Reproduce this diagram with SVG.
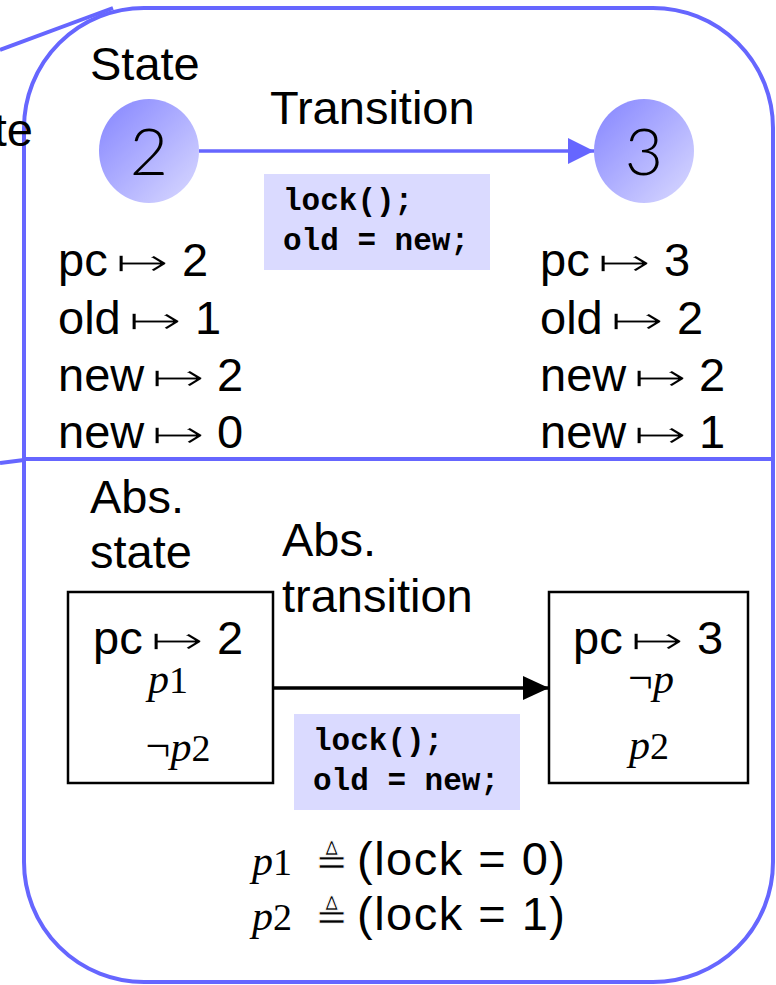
<svg xmlns="http://www.w3.org/2000/svg" width="776" height="985" viewBox="0 0 776 985">
  <defs>
    <linearGradient id="stateFill" x1="0" y1="0" x2="1" y2="1">
      <stop offset="0" stop-color="#8484ff"/>
      <stop offset="1" stop-color="#dadaff"/>
    </linearGradient>
    <marker id="blueHead" markerWidth="26" markerHeight="26" refX="26" refY="13" orient="auto" markerUnits="userSpaceOnUse">
      <path d="M0,0 L26,13 L0,26 Z" fill="#6666ff"/>
    </marker>
    <marker id="blackHead" markerWidth="26" markerHeight="24" refX="26" refY="12" orient="auto" markerUnits="userSpaceOnUse">
      <path d="M0,0 L26,12 L0,24 Z" fill="#000"/>
    </marker>
  </defs>
  <style>
    .lbl { font-family: "Liberation Sans", Arial, sans-serif; font-size: 47px; fill: #000; }
    /* thin "maps to" arrow: the white stroke trims the glyph outline */
    .map { font-family: "DejaVu Sans", sans-serif; font-size: 40px; fill: #000; stroke: #fff; stroke-width: 1.4px; }
    .num { font-family: Lato, "Liberation Sans", sans-serif; font-weight: 300; font-size: 66px; fill: #000; }
    .code { font-family: "Liberation Mono", "Courier New", monospace; font-weight: bold; font-size: 31px; fill: #000; }
    .codebox { fill: #dadaff; }
    .mi { font-family: "Liberation Serif", "Times New Roman", serif; font-style: italic; font-size: 42px; }
    .mn { font-family: "Liberation Serif", "Times New Roman", serif; font-style: normal; font-size: 38px; }
    .neg { font-family: "Liberation Serif", "Times New Roman", serif; font-size: 44px; }
    .op { font-family: "DejaVu Sans", sans-serif; font-size: 40px; stroke: #fff; stroke-width: 1px; }
    .frame { fill: none; stroke: #6666ff; stroke-width: 4; }
    .absbox { fill: #fff; stroke: #000; stroke-width: 2.5; }
  </style>

  <!-- outer frame and stray edges -->
  <g id="frame">
    <rect class="frame" x="24" y="8" width="749" height="974" rx="120" ry="120"/>
    <line class="frame" x1="24" y1="459" x2="773" y2="459"/>
    <line class="frame" x1="0" y1="50" x2="113" y2="8"/>
    <line class="frame" x1="0" y1="463" x2="24" y2="460"/>
    <text class="lbl" x="33" y="146" text-anchor="end">te</text>
  </g>

  <!-- concrete states -->
  <g id="state2">
    <text class="lbl" x="90" y="80">State</text>
    <ellipse cx="149" cy="151" rx="50" ry="52" fill="url(#stateFill)"/>
    <text class="num" x="149" y="175" text-anchor="middle">2</text>
  </g>
  <g id="state3">
    <ellipse cx="644" cy="151" rx="50" ry="52" fill="url(#stateFill)"/>
    <text class="num" x="644" y="175" text-anchor="middle">3</text>
  </g>

  <!-- concrete valuation, state 2 -->
  <g id="vals2">
    <text class="lbl" x="58" y="276">pc</text><text class="map" x="115" y="276" textLength="55" lengthAdjust="spacingAndGlyphs">↦</text><text class="lbl" x="182" y="276">2</text>
    <text class="lbl" x="58" y="334">old</text><text class="map" x="128" y="334" textLength="55" lengthAdjust="spacingAndGlyphs">↦</text><text class="lbl" x="195" y="334">1</text>
    <text class="lbl" x="58" y="391">new</text><text class="map" x="151" y="391" textLength="55" lengthAdjust="spacingAndGlyphs">↦</text><text class="lbl" x="217" y="391">2</text>
    <text class="lbl" x="58" y="448">new</text><text class="map" x="151" y="448" textLength="55" lengthAdjust="spacingAndGlyphs">↦</text><text class="lbl" x="217" y="448">0</text>
  </g>

  <!-- concrete valuation, state 3 -->
  <g id="vals3">
    <text class="lbl" x="540" y="276">pc</text><text class="map" x="597" y="276" textLength="55" lengthAdjust="spacingAndGlyphs">↦</text><text class="lbl" x="664" y="276">3</text>
    <text class="lbl" x="540" y="334">old</text><text class="map" x="610" y="334" textLength="55" lengthAdjust="spacingAndGlyphs">↦</text><text class="lbl" x="677" y="334">2</text>
    <text class="lbl" x="540" y="391">new</text><text class="map" x="633" y="391" textLength="55" lengthAdjust="spacingAndGlyphs">↦</text><text class="lbl" x="699" y="391">2</text>
    <text class="lbl" x="540" y="448">new</text><text class="map" x="633" y="448" textLength="55" lengthAdjust="spacingAndGlyphs">↦</text><text class="lbl" x="699" y="448">1</text>
  </g>

  <!-- transition label and code -->
  <g id="transition">
    <text class="lbl" x="270" y="124">Transition</text>
    <rect class="codebox" x="264" y="174" width="226" height="96"/>
    <text class="code" x="283" y="210">lock();</text>
    <text class="code" x="283" y="250">old = new;</text>
  </g>

  <!-- abstract states -->
  <g id="absState2">
    <text class="lbl" x="90" y="513">Abs.</text>
    <text class="lbl" x="90" y="568">state</text>
    <rect class="absbox" x="68" y="592" width="205" height="191"/>
    <text class="lbl" x="93" y="654">pc</text><text class="map" x="150" y="654" textLength="55" lengthAdjust="spacingAndGlyphs">↦</text><text class="lbl" x="217" y="654">2</text>
    <text x="168" y="693" text-anchor="middle"><tspan class="mi">p</tspan><tspan class="mn">1</tspan></text>
    <text x="178" y="761" text-anchor="middle"><tspan class="neg">¬</tspan><tspan class="mi">p</tspan><tspan class="mn">2</tspan></text>
  </g>
  <g id="absState3">
    <rect class="absbox" x="549" y="592" width="199" height="191"/>
    <text class="lbl" x="573" y="654">pc</text><text class="map" x="630" y="654" textLength="55" lengthAdjust="spacingAndGlyphs">↦</text><text class="lbl" x="697" y="654">3</text>
    <text x="651" y="693" text-anchor="middle"><tspan class="neg">¬</tspan><tspan class="mi">p</tspan></text>
    <text x="649" y="759" text-anchor="middle"><tspan class="mi">p</tspan><tspan class="mn">2</tspan></text>
  </g>

  <!-- abstract transition label and code -->
  <g id="absTransition">
    <text class="lbl" x="282" y="556">Abs.</text>
    <text class="lbl" x="282" y="612">transition</text>
    <rect class="codebox" x="294" y="714" width="226" height="96"/>
    <text class="code" x="313" y="750">lock();</text>
    <text class="code" x="313" y="790">old = new;</text>
  </g>

  <!-- predicate definitions -->
  <g id="predicates">
    <text x="252" y="875"><tspan class="mi">p</tspan><tspan class="mn">1</tspan></text>
    <text class="op" x="315" y="875">≜</text>
    <text class="lbl" x="357" y="875" textLength="208" lengthAdjust="spacing">(lock = 0)</text>
    <text x="252" y="930"><tspan class="mi">p</tspan><tspan class="mn">2</tspan></text>
    <text class="op" x="315" y="930">≜</text>
    <text class="lbl" x="357" y="930" textLength="208" lengthAdjust="spacing">(lock = 1)</text>
  </g>

  <!-- connectors -->
  <g id="connectors">
    <line x1="199" y1="151" x2="594" y2="151" stroke="#6666ff" stroke-width="3.5" marker-end="url(#blueHead)"/>
    <line x1="273" y1="688" x2="549" y2="688" stroke="#000" stroke-width="3.5" marker-end="url(#blackHead)"/>
  </g>
</svg>
